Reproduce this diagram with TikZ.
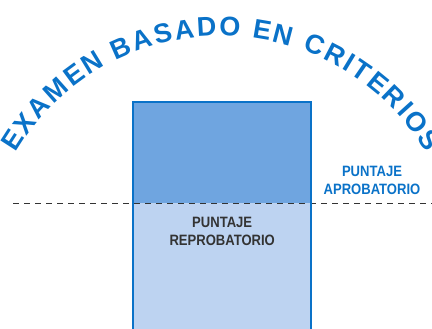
\documentclass[tikz,border=0pt]{standalone}
\usepackage{fontspec}
\setmainfont{Liberation Sans}
\newfontfamily\narrowfont[FakeStretch=0.87]{Liberation Sans}
\definecolor{titleblue}{HTML}{0A72C8}
\definecolor{passfill}{HTML}{6FA5E0}
\definecolor{failfill}{HTML}{BDD3F1}
\definecolor{darktext}{HTML}{333333}
\begin{document}
\begin{tikzpicture}[x=1pt, y=1pt,
   box/.style={inner sep=0pt, minimum width=178pt},
   score/.style={font=\narrowfont\bfseries\fontsize{15}{18}\selectfont, align=center},
   titleletter/.style={font=\bfseries\fontsize{27}{32}\selectfont, text=titleblue, inner sep=0pt, anchor=base},
   cutline/.style={draw=darktext, line width=1pt, dash pattern=on 6pt off 5pt}]

\useasboundingbox (0,0) rectangle (432,329);
\clip (0,0) rectangle (432,329);

% the two parts of the bar
\node[box, fill=passfill, minimum height=100.6pt, anchor=south west] (pass) at (133,125.7) {};
\node[box, fill=failfill, minimum height=131pt, anchor=north west] (fail) at (pass.south west) {};

% limit
\coordinate (cutstart) at (13,125.7);
\coordinate (cutend) at (432,125.7);
\path[cutline] (cutstart) -- (cutend);

% border of the bar
\draw[titleblue, line width=2pt] (fail.south west) -- (pass.north west) -- (pass.north east) -- (fail.south east);

\node[score, text=titleblue] (passlabel) at (372,148.2) {PUNTAJE\\APROBATORIO};
\node[score, text=darktext] (faillabel) at (pass.center |- 0,97.2) {PUNTAJE\\REPROBATORIO};

% title along the arc, letter by letter
\coordinate (arccenter) at (221,54);
\foreach \ltr/\old/\n [count=\i] in {E/10.2/0, X/30.6/1, A/51.7/2, M/74.85/3, E/97.3/4, N/118.4/5,
      B/150.9/7, A/172.7/8, S/193.8/9, A/214.9/10, D/236.7/11, O/259.2/12,
      E/291.7/14, N/312.8/15,
      C/345.3/17, R/367.1/18, I/383.35/19, T/398.2/20, E/417.9/21, R/439.0/22, I/455.25/23, O/472.2/24, S/494.0/25}{
   \pgfmathsetmacro\dist{1.0852*(\old-3.8*\n-1.9)+2.2*\n+1.1}
   \pgfmathsetmacro\ang{90+(248.6-\dist)*0.2397}
   \node[titleletter, rotate=\ang-90] (title\i) at ([shift={(\ang:239)}]arccenter) {\ltr};
}

\end{tikzpicture}
\end{document}
